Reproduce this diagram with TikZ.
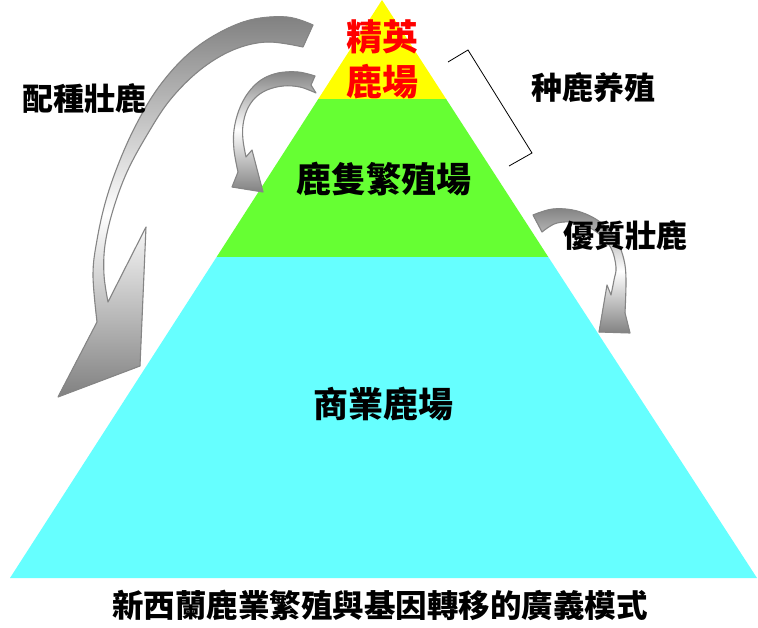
\documentclass[tikz,border=0pt]{standalone}
\usepackage{fontspec}
\newfontfamily\cjk{Noto Sans CJK TC}
\usetikzlibrary{calc}
\definecolor{pyY}{HTML}{FFFF00}
\definecolor{pyG}{HTML}{66FF33}
\definecolor{pyC}{HTML}{66FFFF}
\definecolor{arrEdge}{HTML}{858585}
\tikzset{
  lbl/.style={font=\cjk\bfseries\fontsize{31}{31}\selectfont, inner sep=0pt, text=black},
  biglbl/.style={font=\cjk\bfseries\fontsize{35}{35}\selectfont, inner sep=0pt, text=black},
  redlbl/.style={font=\cjk\bfseries\fontsize{36}{36}\selectfont, inner sep=0pt, text=red},
  grayarrow/.style n args={3}{draw=arrEdge, line width=1.1pt, line join=round,
    path picture={
      \foreach \yy in {#1,...,#3}{
        \pgfmathsetmacro\pc{\yy<#2 ? 50*(#2-\yy)/(#2-#1) : 50*(\yy-#2)/(#3-#2)}
        \fill[black!\pc] (0,\yy-0.6) rectangle (758,\yy+1.6);
      }
    }},
  bracket/.style={draw=black, line width=0.8pt}
}
\begin{document}
\begin{tikzpicture}[x=1pt,y=-1pt]
\useasboundingbox (0,0) rectangle (758,628);
\fill[white] (0,0) rectangle (758,628);
% pyramid
\fill[pyC] (216.6,257) -- (548.3,257) -- (757,578) -- (10,578) -- cycle;
\fill[pyG] (318.3,99) -- (446.1,99) -- (548.3,257) -- (216.6,257) -- cycle;
\fill[pyY] (382,0) -- (446.1,99) -- (318.3,99) -- cycle;
% bracket
\coordinate (b1) at (448,62);
\coordinate (b2) at (468,50);
\coordinate (b3) at (532,153);
\coordinate (b4) at (509,166);
\draw[bracket] (b1) -- (b2) -- (b3) -- (b4);
% big left arrow
\draw[grayarrow={15}{215}{400}]
  plot[smooth, tension=0.6] coordinates {(313,25) (287,17) (250,20) (215,35) (185,57) (158,88) (137,123) (120,160) (106,200) (97,240) (93,275) (97,322)}
  -- (58,397) -- (140,366) -- (146,227) -- (108,302)
  -- plot[smooth, tension=0.6] coordinates {(108,302) (104,275) (105,245) (113,210) (127,172) (147,135) (170,100) (200,70) (233,50) (267,42) (303,47)}
  -- cycle;
% small arrow
\draw[grayarrow={70}{130}{194}]
  plot[smooth, tension=0.6] coordinates {(315,76) (298,72) (278,73) (261,80) (248,93) (239,110) (234,130) (234,150) (238,172)}
  -- (232,187) -- (263,192) -- (252,150) -- (246,157)
  -- plot[smooth, tension=0.6] coordinates {(246,157) (243,140) (243,125) (247,110) (255,98) (267,90) (283,86) (300,87) (316,93)}
  -- (311,85) -- cycle;
% right arrow
\draw[grayarrow={207}{272}{335}]
  plot[smooth, tension=0.6] coordinates {(533,215) (553,209) (577,211) (600,222) (617,242) (624,260) (626,280) (625,313)}
  -- (630,333) -- (599,332) -- (607,285) -- (611,295)
  -- plot[smooth, tension=0.6] coordinates {(611,295) (614,280) (616,267) (611,248) (598,233) (578,223) (557,223) (542,232)}
  -- cycle;
% labels
\node[redlbl] (elite1) at (382,37) {精英};
\node[redlbl] (elite2) at (382,82) {鹿場};
\node[biglbl] (breed) at (384,179) {鹿隻繁殖場};
\node[biglbl] (comm) at (383,404) {商業鹿場};
\node[lbl] (stud) at (593,88) {种鹿养殖};
\node[lbl] (quality) at (625,236) {優質壯鹿};
\node[lbl] (mating) at (85,99) {配種壯鹿};
\node[lbl, font=\cjk\bfseries\fontsize{31.5}{31.5}\selectfont] (title) at (380,605) {新西蘭鹿業繁殖與基因轉移的廣義模式};
\end{tikzpicture}
\end{document}
